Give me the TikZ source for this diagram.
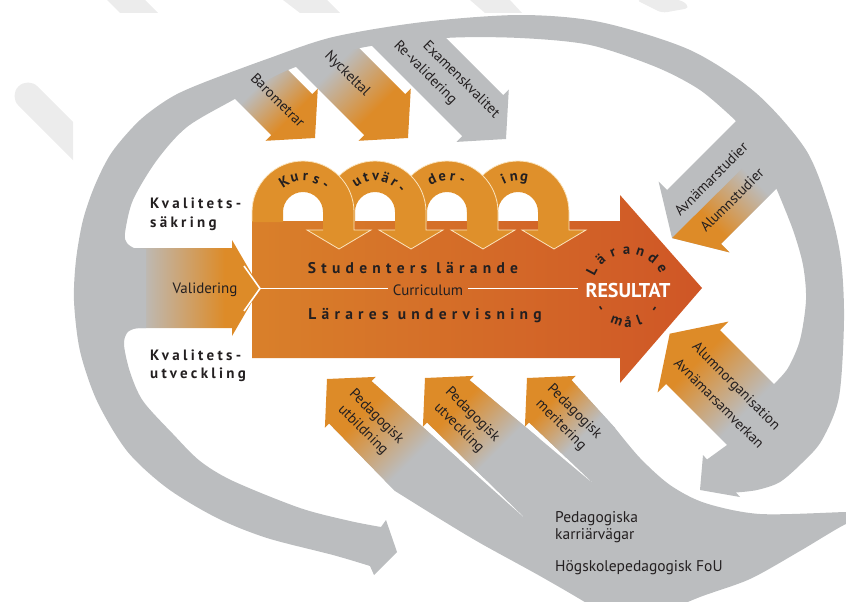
\documentclass[tikz,border=0pt]{standalone}
\usepackage{fontspec}
\setmainfont{PT Sans}
\newfontfamily\trackfont{PT Sans}[LetterSpace=22]
\newfontfamily\widefont{PT Sans}[LetterSpace=34]
\definecolor{ringGrey}{RGB}{187,189,191}
\definecolor{branchOrange}{RGB}{221,139,40}
\definecolor{bodyLeft}{RGB}{217,128,42}
\definecolor{bodyRight}{RGB}{207,86,38}
\definecolor{loopOrange}{RGB}{223,144,43}
\definecolor{creamLine}{RGB}{250,228,190}
\definecolor{inkDark}{RGB}{35,31,32}
\definecolor{markGrey}{RGB}{236,236,236}
\pgfdeclarehorizontalshading{branchFade}{100bp}{color(0bp)=(ringGrey); color(37bp)=(ringGrey); color(64bp)=(branchOrange); color(100bp)=(branchOrange)}
% letters set along the top of an arc
\newcommand{\arcword}[6]{%
  \foreach \ch [count=\i from 0] in {#6}{%
    \pgfmathsetmacro{\ang}{#4+#5*\i}%
    \node[arcchar, anchor=base, rotate=-\ang-90] (arc#1n\i) at ([shift={(#1,#2)}]\ang:#3) {\ch};}}

\begin{document}
\begin{tikzpicture}[x=1pt, y=-1pt,
    lbl/.style={font=\fontsize{14.5}{19}\selectfont, text=inkDark, inner sep=0pt, align=center},
    sweeplbl/.style={font=\fontsize{15.5}{17}\selectfont, text=inkDark, inner sep=0pt, anchor=base west},
    kval/.style={font=\trackfont\bfseries\fontsize{15}{20}\selectfont, text=inkDark, inner sep=0pt, anchor=base west},
    flowtext/.style={font=\widefont\bfseries\fontsize{15.5}{16}\selectfont, text=inkDark, inner sep=0pt, anchor=base},
    arcchar/.style={font=\bfseries\fontsize{14.5}{15}\selectfont, text=inkDark, inner sep=0pt},
    branchfade/.style={shading=branchFade, shading angle=#1},
    loopedge/.style={draw=creamLine, line width=0.8pt},
    curline/.style={draw=white, line width=1.6pt}
  ]
\useasboundingbox (0,0) rectangle (846,602);

% faint marks
\fill[markGrey] (107,0) -- (145,0) -- (158,13) -- (120,13) -- cycle;
\fill[markGrey] (283,0) -- (327,0) -- (340,13) -- (300,13) -- cycle;
\fill[markGrey] (470,0) -- (510,0) -- (522,13) -- (485,13) -- cycle;
\fill[markGrey, rounded corners=5pt] (636,0) -- (682,0) -- (690,8) -- (662,13) -- cycle;
\begin{scope}
  \clip (0,60) rectangle (73,170);
  \draw[markGrey, line width=27pt, line cap=round] (28,96) -- (95,163);
\end{scope}

% lower sweep with the three pedagogic branches
\fill[ringGrey] (371.5,381.1) -- (530,523) -- (427.1,422.5) -- (469.5,380.1) -- (596,486)
  -- (529.1,422.5) -- (571.5,380.1) -- (615,428)
  -- plot[smooth] coordinates {(615,428) (640,458) (670,485) (705,503) (760,514) (846,512) (862,512)}
  -- (862,523)
  -- plot[smooth] coordinates {(862,523) (846,524) (800,551) (750,579) (700,597) (660,614)}
  -- plot[smooth] coordinates {(600,614) (588,604) (540,576) (480,543) (440,519) (395,491)}
  -- (329.1,423.5) -- cycle;
\shade[branchfade=135] (327,379) -- (375.8,376.9) -- (371.5,381.1) -- (458.7,459.1) -- (395,491) -- (329.1,423.5) -- (324.9,427.8) -- cycle;
\shade[branchfade=135] (425,378) -- (473.8,375.9) -- (469.5,380.1) -- (539.1,438.3) -- (483.7,477.8) -- (427.1,422.5) -- (422.9,426.8) -- cycle;
\shade[branchfade=135] (527,378) -- (575.8,375.9) -- (571.5,380.1) -- (615,428) -- (565.9,457.4) -- (529.1,422.5) -- (524.9,426.8) -- cycle;

% main arrow
\shade[left color=bodyLeft, right color=bodyRight] (252,221) -- (620,221) -- (620,195) -- (702,288) -- (620,383) -- (620,358) -- (252,358) -- cycle;

% evaluation loops
\foreach \cx in {518,447,375,303}{
  \fill[loopOrange] (\cx-51,222) -- (\cx-51,212) arc[start angle=180, end angle=360, radius=51]
    -- (\cx+51,230) -- (\cx+68,230) -- (\cx+36,249) -- (\cx+4,230) -- (\cx+20,230) -- (\cx+20,212)
    arc[start angle=360, end angle=180, radius=20] -- (\cx-20,222) -- cycle;
  \draw[loopedge] (\cx-51,221) -- (\cx-51,212) arc[start angle=180, end angle=360, radius=51]
    -- (\cx+51,230) -- (\cx+68,230) -- (\cx+36,249) -- (\cx+4,230) -- (\cx+20,230);
}

% branches leaving the ring
\shade[branchfade=0] (100,248) -- (232,248) -- (232,240) -- (260,288) -- (232,336) -- (232,328) -- (100,328) -- cycle;
\coordinate (valtip) at (260,288.5);
\draw[curline] (244,266) -- (valtip) -- (244,311);
\shade[branchfade=-45] (315,138) -- (317.8,88.5) -- (312.2,94.2) -- (280,62) -- (228,92) -- (271.2,135.2) -- (265.5,140.8) -- cycle;
\shade[branchfade=-45] (408,138) -- (410.8,88.5) -- (405.2,94.2) -- (352,41) -- (290,61) -- (364.2,135.2) -- (358.5,140.8) -- cycle;
\fill[ringGrey] (506,139) -- (508.8,89.5) -- (503.2,95.2) -- (440,32) -- (368,42) -- (462.2,136.2) -- (456.5,141.9) -- cycle;
\fill[ringGrey] (672,238) -- (658.6,181.6) -- (667.1,190.1) -- (741.3,115.9) -- (791.6,173.2) -- (720.9,243.9) -- (729.4,252.4) -- cycle;
\shade[branchfade=225] (672,238) -- (729.4,252.4) -- (720.9,243.9) -- (791.6,173.2) -- (766.1,144.9) -- cycle;
\shade[branchfade=135] (669.7,333.7) -- (728.4,321.6) -- (719.9,330.1) -- (788,398.2) -- (734,451.8) -- (666.1,383.9) -- (657.6,392.4) -- cycle;

% the big ring
\fill[ringGrey] (397,552) -- (374,575) -- (370,566)
  -- plot[smooth] coordinates {(370,566) (333,555) (267,538) (217,518) (167,488) (127,451) (97,401) (80,351) (74,301) (76,260) (83,220) (95,185) (112,152) (140,120) (170,98) (200,84) (267,59) (333,37) (423,22) (520,15) (600,22) (690,50) (756,93) (806,150) (830,210) (841,260) (844,320) (839,397) (822,440) (803,462) (780,482) (757,490) (736,492.5)}
  -- (740,497) -- (700,490) -- (703,455) -- (707,459.5) -- (727,445) -- (774,384)
  -- plot[smooth] coordinates {(774,384) (788,368) (800,340) (806,300) (803,265) (793,230) (777,190)}
  -- (735,120)
  -- plot[smooth] coordinates {(735,120) (700,90) (656,67) (590,45) (520,38) (445,38) (360,48) (288,70) (233,100) (187,127) (157,160) (133,200) (125,233) (127,243) (135,248.4) (146,249)}
  -- (146,328)
  -- plot[smooth] coordinates {(146,328) (135,328.6) (127,333) (124,345) (130,372) (143,401) (173,434) (200,461) (233,481) (300,508) (350,521) (381,527)}
  -- (386,520) -- cycle;

% texts
\node[lbl, rotate=-45] (baro) at (278,100) {Barometrar};
\node[lbl, rotate=-45] (nyck) at (347,74) {Nyckeltal};
\node[lbl, rotate=-45] (reval) at (425,73) {Re-validering};
\node[lbl, rotate=-45] (exam) at (462,79) {Examenskvalitet};
\node[lbl, rotate=45, font=\fontsize{14.5}{29.5}\selectfont] (avnst) at (721.5,189.5) {Avnämarstudier\\Alumnstudier};
\node[lbl, rotate=-45, font=\fontsize{14.5}{24.7}\selectfont] (alorg) at (728,394.5) {Alumnorganisation\\Avnämarsamverkan};
\node[lbl, rotate=-45] (pedutb) at (369.5,423.5) {Pedagogisk\\utbildning};
\node[lbl, rotate=-45] (pedutv) at (465.5,421.5) {Pedagogisk\\utveckling};
\node[lbl, rotate=-45] (pedmer) at (567.5,418.5) {Pedagogisk\\meritering};
\node[sweeplbl] (karr1) at (555,522.5) {Pedagogiska};
\node[sweeplbl] (karr2) at (555,539) {karriärvägar};
\node[sweeplbl] (fou) at (555,571) {Högskolepedagogisk FoU};
\node[lbl, anchor=base, font=\fontsize{15}{17}\selectfont] (valid) at (205,293.5) {Validering};

\node[kval] (qsak1) at (150,208) {Kvalitets-};
\node[kval] (qsak2) at (150,227) {säkring};
\node[kval] (qutv1) at (150,360) {Kvalitets-};
\node[kval] (qutv2) at (150,378) {utveckling};

\node[flowtext] (stud) at (413,273) {Studenters lärande};
\node[flowtext] (larar) at (425,319) {Lärares undervisning};
\node[lbl, anchor=base, inner xsep=5pt, font=\fontsize{15}{17}\selectfont] (curr) at (428,295) {Curriculum};
\node[font=\bfseries\fontsize{20}{22}\selectfont, text=white, inner sep=0pt, inner xsep=7pt, anchor=base] (res) at (628,297) {RESULTAT};
\draw[curline] (valtip) -- (valtip -| curr.west);
\draw[curline] (valtip -| curr.east) -- (valtip -| res.west);

\arcword{303}{212}{31}{238}{18}{K,u,r,s,-}
\arcword{375}{212}{31}{239}{16}{u,t,v,ä,r,-}
\arcword{447}{212}{31}{245}{17}{d,e,r,-}
\arcword{518}{212}{31}{246}{17}{i,n,g}
\arcword{628}{290}{36}{208}{20}{L,ä,r,a,n,d,e}
\foreach \ch/\ang [count=\i] in {-/146, m/110, å/90, l/70, -/36}{
  \node[arcchar, anchor=base, rotate=90-\ang] (mal\i) at ([shift={(628,290)}]\ang:37) {\ch};}
\end{tikzpicture}
\end{document}
